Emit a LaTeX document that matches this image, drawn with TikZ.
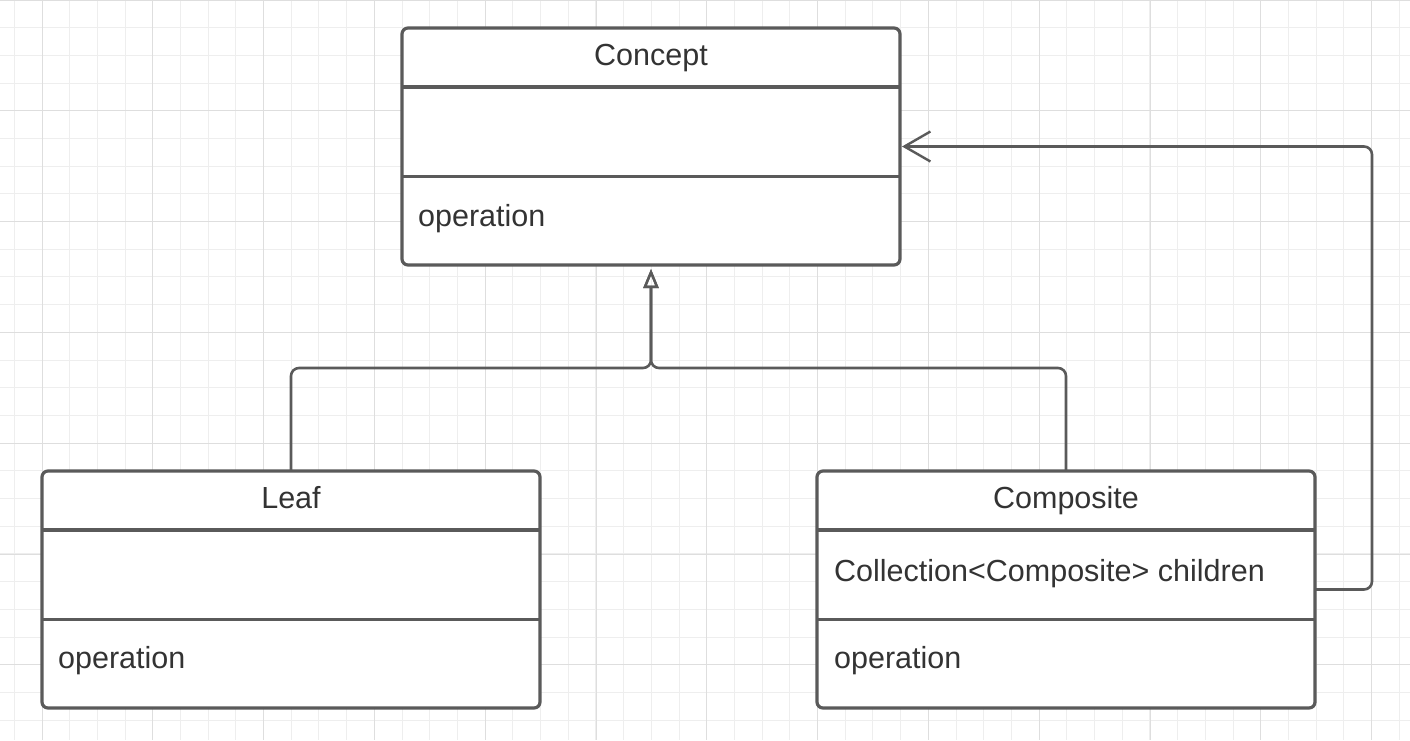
\documentclass[tikz,border=0pt]{standalone}
\usepackage{fontspec}
\setmainfont{Liberation Sans}
\usetikzlibrary{arrows.meta, positioning, calc}

\definecolor{umlline}{HTML}{5A5A5A}
\definecolor{umltext}{HTML}{333333}
\definecolor{gridminor}{HTML}{EEEEEE}
\definecolor{gridmajor}{HTML}{DEDEDE}

\tikzset{
	umlclass/.style = {draw = umlline, line width = 3.2pt, rounded corners = 6pt, fill = white,
		minimum width = 498pt, minimum height = 237pt, inner sep = 0pt, outer sep = 0pt},
	umlsep/.style = {draw = umlline, line width = 3.2pt},
	umltxt/.style = {text = umltext, inner sep = 0pt, font = \fontsize{30.5}{36}\selectfont},
	inherit/.style = {draw = umlline, line width = 2.6pt, rounded corners = 8pt,
		-{Triangle[open, length = 19pt, width = 15pt, line width = 2.4pt]}, shorten > = 4pt},
	assoc/.style = {draw = umlline, line width = 2.6pt, rounded corners = 8pt,
		-{Straight Barb[length = 26pt, width = 30pt, line width = 2.4pt]}, shorten > = 2pt}
}

\begin{document}
\begin{tikzpicture}[x = 1pt, y = -1pt]
	\useasboundingbox[fill = white] (0,0) rectangle (1410,740);
	% background grid
	\foreach \i in {0,...,51} \draw[gridminor, line width = 1pt] ({int(14.3+27.7*\i)+0.5},0) -- ++(0,740);
	\foreach \i in {0,...,26} \draw[gridminor, line width = 1pt] (0,{int(27.7*\i)+0.5}) -- ++(1410,0);
	\foreach \i in {0,...,12} \draw[gridmajor, line width = 1pt] ({int(42+110.8*\i)+0.5},0) -- ++(0,740);
	\foreach \i in {0,...,6} \draw[gridmajor, line width = 1pt] (0,{int(110.8*\i)+0.5}) -- ++(1410,0);

	% classes
	\node[umlclass] (concept) at (651,146.5) {};
	\node[umlclass] (leaf) at (291,589.5) {};
	\node[umlclass] (composite) at (1066,589.5) {};

	\foreach \c in {concept, leaf, composite} {
		\draw[umlsep] ([yshift = -59pt]\c.north west) -- ([yshift = -59pt]\c.north east);
		\draw[umlsep] ([yshift = -148.5pt]\c.north west) -- ([yshift = -148.5pt]\c.north east);
	}

	\node[umltxt, anchor = base] (concepttitle) at (651,65) {Concept};
	\node[umltxt, anchor = base west] (conceptop) at (418,226) {operation};
	\node[umltxt, anchor = base] (leaftitle) at (291,508) {Leaf};
	\node[umltxt, anchor = base west] (leafop) at (58,668) {operation};
	\node[umltxt, anchor = base] (compositetitle) at (1066,508) {Composite};
	\node[umltxt, anchor = base west] (compositeattr) at (834,581) {Collection<Composite> children};
	\node[umltxt, anchor = base west] (compositeop) at (834,668) {operation};

	% connectors
	\coordinate (join) at (651,368);
	\coordinate (loop) at (1372,589.5);
	\draw[inherit] (leaf.north) |- (join) -- (concept.south);
	\draw[inherit] (composite.north) |- (join) -- (concept.south);
	\draw[assoc] (composite.east) -- (loop) |- (concept.east);
\end{tikzpicture}
\end{document}
